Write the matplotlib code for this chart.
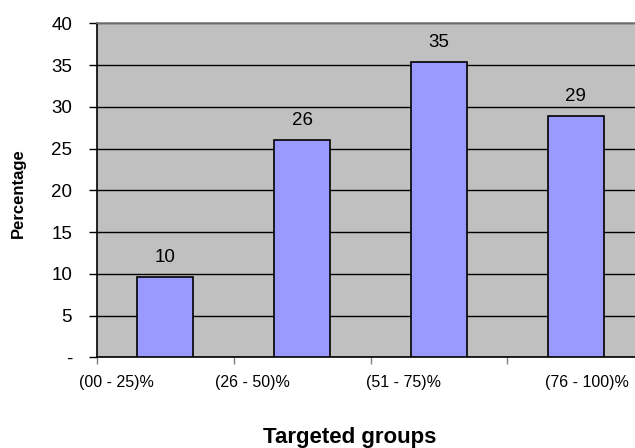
import matplotlib
matplotlib.use("Agg")
import matplotlib.pyplot as plt
import numpy as np

plt.rcParams['font.family'] = ['Liberation Sans', 'DejaVu Sans']

categories = ["(00 - 25)%", "(26 - 50)%", "(51 - 75)%", "(76 - 100)%"]
percentages = [9.6, 26.0, 35.4, 28.9]
y_ticks = [0, 5, 10, 15, 20, 25, 30, 35, 40]
y_tick_labels = ["-", "5", "10", "15", "20", "25", "30", "35", "40"]

# horizontal nudges for the category captions (in category units)
label_shift = [-0.36, -0.36, -0.26, 0.08]

fig = plt.figure(figsize=(6.35, 4.48), dpi=100)
ax = fig.add_axes([97 / 635, 1 - 357.3 / 448, 547 / 635, 334 / 448])
ax.set_facecolor("#C0C0C0")

x = np.arange(len(categories))
ax.set_axisbelow(True)
ax.yaxis.grid(True, color="black", linewidth=1.0)
bars = ax.bar(x, percentages, width=0.41, color="#9999FF",
              edgecolor="black", linewidth=1.2, zorder=3)

for xi, v in zip(x, percentages):
    ax.annotate(f"{v:.0f}", (xi, v), xytext=(0, 8), textcoords="offset points",
                ha="center", va="bottom", fontsize=13.5)

ax.set_xlim(-0.5, len(categories) - 0.5)
ax.set_ylim(0, 40)
ax.set_yticks(y_ticks)
ax.set_yticklabels(y_tick_labels, fontsize=13.5)
ax.tick_params(axis="y", length=6, width=1, color="black", pad=12)

# category boundaries carry the x tick marks; captions are placed as text
ax.set_xticks(np.arange(len(categories)) - 0.5)
ax.set_xticklabels([])
ax.tick_params(axis="x", length=5, width=1, color="#808080")
for xi, lab, dx in zip(x, categories, label_shift):
    ax.text(xi + dx, -3.0, lab, ha="center", va="center", fontsize=11.5,
            transform=ax.transData, clip_on=False)

ax.spines["right"].set_visible(False)
ax.spines["top"].set_color("#808080")
ax.spines["top"].set_linewidth(1.2)
ax.spines["left"].set_color("black")
ax.spines["bottom"].set_color("black")
ax.spines["left"].set_linewidth(1.2)
ax.spines["bottom"].set_linewidth(1.2)

fig.text(18 / 635, 1 - 193 / 448, "Percentage", rotation=90, ha="center",
         va="center", fontsize=12, fontweight="bold")
fig.text(350 / 635, 1 - 437 / 448, "Targeted groups", ha="center", va="center",
         fontsize=16, fontweight="bold")

fig.savefig("out.png", dpi=100)
